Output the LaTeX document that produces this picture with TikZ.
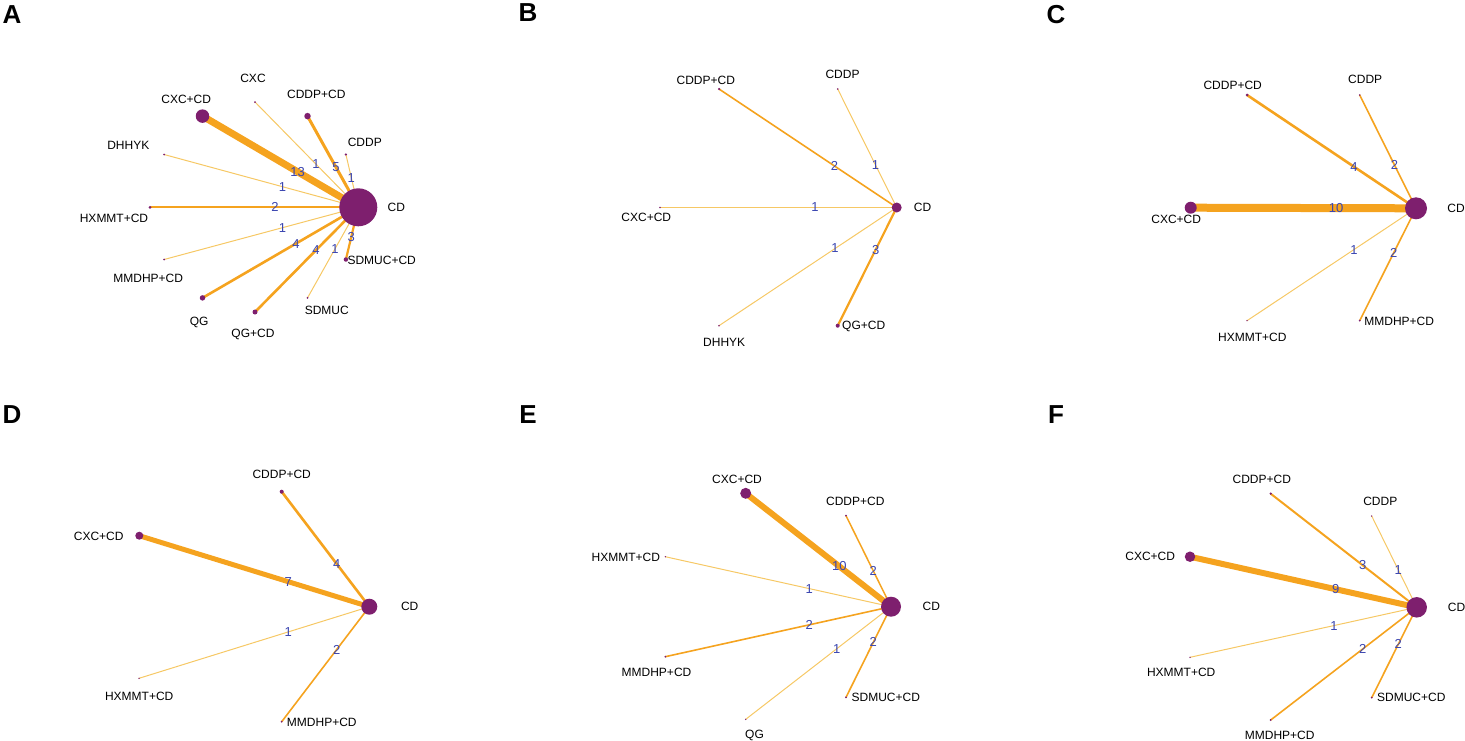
\documentclass[tikz,border=0pt]{standalone}
\usepackage{fontspec}
\setmainfont{Liberation Sans}
\definecolor{netor}{HTML}{F5A31F}
\definecolor{netlt}{HTML}{F6C865}
\definecolor{netpu}{HTML}{7E1F6E}
\definecolor{netbl}{HTML}{3A45B0}
\pgfdeclarelayer{bg}
\pgfsetlayers{bg,main}
\tikzset{
  trt/.style={circle, fill=netpu, inner sep=0pt, minimum size=#1},
  lab/.style={font=\fontsize{12}{14}\selectfont, inner sep=0pt},
  num/.style={font=\fontsize{13}{14}\selectfont, text=netbl, inner sep=0pt},
  arm/.style={draw=netor, line width=#1},
  single/.style={draw=netlt, line width=1pt},
  panel/.style={font=\fontsize{26}{28}\selectfont\bfseries, inner sep=0pt}
}
\begin{document}
\begin{tikzpicture}[x=1pt,y=-1pt]
    \useasboundingbox (0,0) rectangle (1465,740);
    % panel A
    \node[panel] (pA) at (12,15) {A};
    \node[trt=38pt] (a0) at (358.3,207.3) {};
    \node[trt=2.4pt] (a1) at (345.9,154.5) {};
    \node[trt=6.5pt] (a2) at (307.5,116.1) {};
    \node[trt=2pt] (a3) at (255,102) {};
    \node[trt=13.5pt] (a4) at (202.5,116.1) {};
    \node[trt=2pt] (a5) at (164.1,154.5) {};
    \node[trt=3pt] (a6) at (150,207.3) {};
    \node[trt=2pt] (a7) at (164.1,259.5) {};
    \node[trt=5.5pt] (a8) at (202.5,297.9) {};
    \node[trt=5pt] (a9) at (255,312) {};
    \node[trt=2pt] (a10) at (307.5,297.9) {};
    \node[trt=4.5pt] (a11) at (345.9,259.5) {};
    \node[lab] (la0) at (396.3,207.3) {CD};
    \node[lab] (la1) at (364.8,142.3) {CDDP};
    \node[lab] (la2) at (316.3,94.7) {CDDP+CD};
    \node[lab] (la3) at (253,78.5) {CXC};
    \node[lab] (la4) at (186.2,99) {CXC+CD};
    \node[lab] (la5) at (128.3,145.3) {DHHYK};
    \node[lab] (la6) at (114,218.7) {HXMMT+CD};
    \node[lab] (la7) at (148.2,278.7) {MMDHP+CD};
    \node[lab] (la8) at (199.2,322) {QG};
    \node[lab] (la9) at (253,334) {QG+CD};
    \node[lab] (la10) at (326.8,310.7) {SDMUC};
    \node[lab] (la11) at (381.7,260) {SDMUC+CD};
    \begin{pgfonlayer}{bg}
    \draw[arm=7pt] (a4.center) -- node[num,pos=0.61] {13} (a0.center);
    \draw[arm=3pt] (a2.center) -- node[num,pos=0.56] {5} (a0.center);
    \draw[single] (a3.center) -- node[num,pos=0.59] {1} (a0.center);
    \draw[single] (a1.center) -- node[num,pos=0.44] {1} (a0.center);
    \draw[single] (a5.center) -- node[num,pos=0.61] {1} (a0.center);
    \draw[arm=1.8pt] (a6.center) -- node[num,pos=0.6] {2} (a0.center);
    \draw[single] (a7.center) -- node[num,pos=0.61] {1} (a0.center);
    \draw[arm=2.6pt] (a8.center) -- node[num,pos=0.6] {4} (a0.center);
    \draw[arm=2.6pt] (a9.center) -- node[num,pos=0.59] {4} (a0.center);
    \draw[single] (a10.center) -- node[num,pos=0.54] {1} (a0.center);
    \draw[arm=2.2pt] (a11.center) -- node[num,pos=0.44] {3} (a0.center);
    \end{pgfonlayer}
    % panel B
    \node[panel] (pB) at (528,13) {B};
    \node[trt=10pt] (b0) at (896.7,207.5) {};
    \node[trt=1.8pt] (b1) at (837.7,89) {};
    \node[trt=2.5pt] (b2) at (719,89) {};
    \node[trt=1.8pt] (b3) at (660,207.5) {};
    \node[trt=1.8pt] (b4) at (719,325.7) {};
    \node[trt=4pt] (b5) at (837.7,325.7) {};
    \node[lab] (lb0) at (922.5,207.3) {CD};
    \node[lab] (lb1) at (842.5,74) {CDDP};
    \node[lab] (lb2) at (705.8,80) {CDDP+CD};
    \node[lab] (lb3) at (646.3,217.3) {CXC+CD};
    \node[lab] (lb4) at (724.2,342.7) {DHHYK};
    \node[lab] (lb5) at (863.7,326) {QG+CD};
    \begin{pgfonlayer}{bg}
    \draw[arm=1.6pt] (b2.center) -- node[num,pos=0.65] {2} (b0.center);
    \draw[single] (b1.center) -- node[num,pos=0.64] {1} (b0.center);
    \draw[single] (b3.center) -- node[num,pos=0.655] {1} (b0.center);
    \draw[single] (b4.center) -- node[num,pos=0.653] {1} (b0.center);
    \draw[arm=2.2pt] (b5.center) -- node[num,pos=0.644] {3} (b0.center);
    \end{pgfonlayer}
    % panel C
    \node[panel] (pC) at (1056,15) {C};
    \node[trt=22pt] (c0) at (1416,208.3) {};
    \node[trt=1.8pt] (c1) at (1359.7,95) {};
    \node[trt=3pt] (c2) at (1247,95) {};
    \node[trt=12pt] (c3) at (1190.7,207.7) {};
    \node[trt=1.5pt] (c4) at (1247,320.7) {};
    \node[trt=2pt] (c5) at (1359.7,320.7) {};
    \node[lab] (lc0) at (1456,208.3) {CD};
    \node[lab] (lc1) at (1365.2,79) {CDDP};
    \node[lab] (lc2) at (1232.7,85) {CDDP+CD};
    \node[lab] (lc3) at (1176.2,219) {CXC+CD};
    \node[lab] (lc4) at (1252.3,337.7) {HXMMT+CD};
    \node[lab] (lc5) at (1399.2,321.7) {MMDHP+CD};
    \begin{pgfonlayer}{bg}
    \draw[arm=8pt] (c3.center) -- node[num,pos=0.645] {10} (c0.center);
    \draw[arm=2.6pt] (c2.center) -- node[num,pos=0.633] {4} (c0.center);
    \draw[arm=1.6pt] (c1.center) -- node[num,pos=0.618] {2} (c0.center);
    \draw[single] (c4.center) -- node[num,pos=0.633] {1} (c0.center);
    \draw[arm=1.6pt] (c5.center) -- node[num,pos=0.605] {2} (c0.center);
    \end{pgfonlayer}
    % panel D
    \node[panel] (pD) at (12,415) {D};
    \node[trt=16pt] (d0) at (369.3,606.7) {};
    \node[trt=4pt] (d1) at (281.7,491.7) {};
    \node[trt=8pt] (d2) at (139.3,535.7) {};
    \node[trt=1.5pt] (d3) at (139,678.3) {};
    \node[trt=2pt] (d4) at (281.7,721.7) {};
    \node[lab] (ld0) at (409.7,606.7) {CD};
    \node[lab] (ld1) at (281.7,474) {CDDP+CD};
    \node[lab] (ld2) at (98.7,536) {CXC+CD};
    \node[lab] (ld3) at (139.2,696.7) {HXMMT+CD};
    \node[lab] (ld4) at (321.8,722.3) {MMDHP+CD};
    \begin{pgfonlayer}{bg}
    \draw[arm=5pt] (d2.center) -- node[num,pos=0.648] {7} (d0.center);
    \draw[arm=2.6pt] (d1.center) -- node[num,pos=0.628] {4} (d0.center);
    \draw[single] (d3.center) -- node[num,pos=0.648] {1} (d0.center);
    \draw[arm=1.6pt] (d4.center) -- node[num,pos=0.628] {2} (d0.center);
    \end{pgfonlayer}
    % panel E
    \node[panel] (pE) at (528,415) {E};
    \node[trt=20pt] (e0) at (891,606.7) {};
    \node[trt=2pt] (e1) at (846,515.7) {};
    \node[trt=11pt] (e2) at (745.7,493.3) {};
    \node[trt=1.5pt] (e3) at (665.3,556.7) {};
    \node[trt=2pt] (e4) at (665.3,656.7) {};
    \node[trt=1.5pt] (e5) at (745.7,719.3) {};
    \node[trt=2pt] (e6) at (846,697.3) {};
    \node[lab] (le0) at (931.3,606.7) {CD};
    \node[lab] (le1) at (855.3,501) {CDDP+CD};
    \node[lab] (le2) at (737,479) {CXC+CD};
    \node[lab] (le3) at (625.8,557.3) {HXMMT+CD};
    \node[lab] (le4) at (656.5,672.7) {MMDHP+CD};
    \node[lab] (le5) at (754.5,735) {QG};
    \node[lab] (le6) at (885.8,697.3) {SDMUC+CD};
    \begin{pgfonlayer}{bg}
    \draw[arm=6pt] (e2.center) -- node[num,pos=0.644] {10} (e0.center);
    \draw[arm=1.5pt] (e1.center) -- node[num,pos=0.607] {2} (e0.center);
    \draw[single] (e3.center) -- node[num,pos=0.638] {1} (e0.center);
    \draw[arm=1.6pt] (e4.center) -- node[num,pos=0.638] {2} (e0.center);
    \draw[single] (e5.center) -- node[num,pos=0.626] {1} (e0.center);
    \draw[arm=1.6pt] (e6.center) -- node[num,pos=0.607] {2} (e0.center);
    \end{pgfonlayer}
    % panel F
    \node[panel] (pF) at (1056,415) {F};
    \node[trt=20.5pt] (f0) at (1416.7,607.3) {};
    \node[trt=2.5pt] (f1) at (1270.7,493.7) {};
    \node[trt=1.5pt] (f2) at (1371.7,516) {};
    \node[trt=10.5pt] (f3) at (1190,556.7) {};
    \node[trt=1.5pt] (f4) at (1190,657.3) {};
    \node[trt=2pt] (f5) at (1270.7,720) {};
    \node[trt=2pt] (f6) at (1371.7,697.7) {};
    \node[lab] (lf0) at (1456.5,607.3) {CD};
    \node[lab] (lf1) at (1261.8,479) {CDDP+CD};
    \node[lab] (lf2) at (1380.3,501) {CDDP};
    \node[lab] (lf3) at (1150.2,556.7) {CXC+CD};
    \node[lab] (lf4) at (1181.2,672.7) {HXMMT+CD};
    \node[lab] (lf5) at (1279.7,735.7) {MMDHP+CD};
    \node[lab] (lf6) at (1411.3,697.7) {SDMUC+CD};
    \begin{pgfonlayer}{bg}
    \draw[arm=6pt] (f3.center) -- node[num,pos=0.643] {9} (f0.center);
    \draw[arm=2pt] (f1.center) -- node[num,pos=0.63] {3} (f0.center);
    \draw[single] (f2.center) -- node[num,pos=0.59] {1} (f0.center);
    \draw[single] (f4.center) -- node[num,pos=0.635] {1} (f0.center);
    \draw[arm=1.6pt] (f5.center) -- node[num,pos=0.63] {2} (f0.center);
    \draw[arm=1.6pt] (f6.center) -- node[num,pos=0.59] {2} (f0.center);
    \end{pgfonlayer}
\end{tikzpicture}
\end{document}
